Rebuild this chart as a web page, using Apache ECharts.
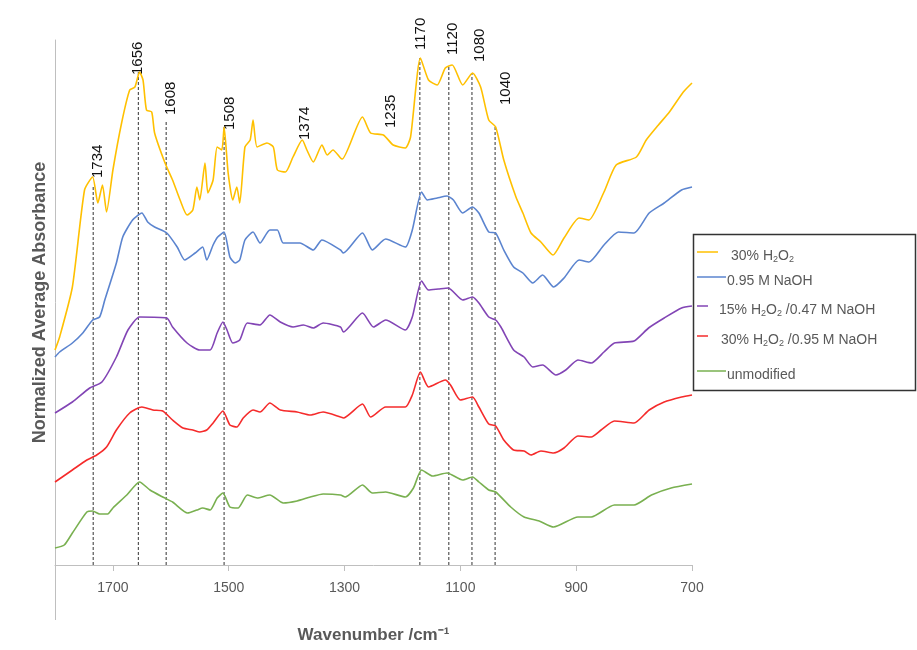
<!DOCTYPE html>
<html>
<head>
<meta charset="utf-8">
<script src="https://cdn.jsdelivr.net/npm/echarts@6/dist/echarts.min.js"></script>
<style>html,body{margin:0;padding:0;background:#fff;}#main{width:917px;height:650px;}</style>
</head>
<body>
<div id="main"></div>
<script>
// wavenumber (cm-1) and normalized absorbance (arbitrary, offset per trace)
var wnH2O2 = [1800,1792,1770,1749,1735,1726,1718,1711,1700,1685,1671,1662,1654,1648,1642,1633,1628,1610,1597,1584,1572,1562,1555,1550,1541,1536,1527,1520,1512,1508,1501,1493,1486,1481,1472,1463,1458,1451,1434,1423,1416,1402,1389,1373,1365,1354,1339,1330,1320,1307,1304,1269,1255,1233,1216,1195,1186,1169,1155,1140,1126,1114,1096,1079,1065,1051,1039,1025,1004,992,978,961,940,921,895,878,852,831,796,779,758,739,715,700];
var abH2O2 = [43,45.6,55.6,75,77.6,72.4,76,70.6,79,88.4,95,95.6,98.6,97,91,90.6,86.4,80.4,77,73,70,71,75.6,73,80.4,74.4,77,83.6,83,87.6,78.4,73,75.6,72.4,83.6,85,89,83.6,84.4,83.6,79,78.6,81.6,85,83,80.6,84,82,83,81.4,81.2,89.6,86.4,86,84,83.4,85.6,101.4,97,96,99.4,100,96,98.4,95.6,89,87.6,81,73.6,70.4,66.4,64.6,62,65.4,69.4,69,74.6,80,81.6,85,88,90.6,94.6,96.4];

var wnNaOH = [1800,1792,1770,1752,1735,1723,1714,1694,1683,1666,1650,1640,1628,1607,1589,1576,1558,1545,1538,1527,1519,1508,1498,1489,1481,1472,1458,1446,1429,1416,1406,1377,1354,1339,1307,1302,1269,1252,1229,1195,1183,1167,1157,1140,1123,1112,1096,1079,1068,1051,1039,1025,1008,992,975,958,939,921,895,878,852,827,800,774,748,718,700];
var abNaOH = [41.6,42.6,44.4,46.4,49,49.6,53,60.4,65.6,69,70.4,68.6,67.6,66.4,63.6,61,62.4,63.6,61,64,65.6,66.6,61.6,60.4,61,65,66.6,64.4,67,67,64.4,64.4,63,65,63,62.4,66.4,63,65.2,63.6,67,74.6,73,73.4,73.8,73,70.4,71.6,70.4,66.6,66.4,63,59.6,58.4,56.4,58,55.6,57.4,61,60.6,64,66.6,66.4,70.4,72.4,75,75.6];

var wnMix15 = [1800,1770,1740,1719,1694,1674,1654,1607,1597,1572,1550,1532,1520,1510,1503,1493,1481,1468,1446,1429,1411,1389,1371,1354,1337,1307,1302,1269,1250,1229,1195,1183,1167,1155,1138,1121,1096,1079,1068,1051,1039,1030,1008,990,975,958,935,918,897,874,852,834,800,775,748,718,700];
var abMix15 = [30.4,32.6,35.4,36.6,41.6,47,49.6,49.4,47.6,44.4,43,43,46.4,48.6,47,44.4,45,48.4,48,50,48.6,47.6,48,47.4,48.4,47.6,46.6,50.4,47.6,49,47,49.6,56.8,55,55.2,55.4,53,53.6,52.4,49.6,49,47.6,43,41.6,39.6,40,38,39,41,40.4,42.6,44.4,44.8,47.4,49.4,51.4,51.8];

var wnMix30 = [1800,1770,1745,1728,1711,1694,1671,1650,1631,1614,1597,1579,1562,1550,1538,1527,1510,1498,1486,1475,1458,1446,1429,1411,1382,1359,1337,1307,1302,1269,1255,1229,1195,1183,1169,1155,1126,1117,1100,1079,1068,1051,1039,1025,1008,990,978,961,939,921,897,874,857,834,800,774,748,718,700];
var abMix30 = [16.6,19,21,22,23.6,27,30.4,31.6,31,30.8,29,27.4,27,26.6,27,28.4,30.8,28,27.6,29.4,31,30.6,32.4,31,30.6,30,30.6,29.6,29.4,32.2,29.6,31.6,31.6,34,38.6,35.6,37,36,33,33.6,31.6,28.2,27.8,25,23,22.8,22,22.8,22.4,23.4,25.8,25.6,27,28.8,28.4,31,32.6,33.6,34];

var wnUnmod = [1800,1784,1770,1745,1735,1723,1709,1700,1676,1654,1636,1614,1597,1571,1555,1545,1532,1520,1510,1498,1484,1468,1451,1429,1406,1382,1359,1337,1307,1299,1269,1252,1229,1195,1181,1167,1148,1123,1096,1079,1068,1051,1039,1013,990,964,939,897,874,834,800,770,736,700];
var abUnmod = [3.4,4,6.4,10.6,10.8,10.2,10.2,11.4,14,16.6,15,13.6,12.6,10.4,11,11.4,11,13.4,14.4,11.6,11.4,14,13.4,14,12.4,12.8,13.6,14.2,14,13.6,16,14.4,14.6,13.6,15.4,19,17.8,18.4,17,17.6,16.6,15,14.6,11.6,9.6,8.8,7.6,9.6,9.6,12,12,14,15.4,16.2];

var peakWn = [1734,1656,1608,1508,1374,1235,1170,1120,1080,1040];
var peakLineTop = [76,99,89,87.6,null,null,101.4,100,98.4,87.6];
var peakLabelBase = [77.4,98,90,87,85,87.4,103,102,100.6,92];
var peakLabelShift = [5,-1,5,6,3,9,1,4,8,11];

var xTicks = [700,900,1100,1300,1500,1700];

function pairs(wn, ab) {
    return wn.map(function (w, i) { return [w, ab[i]]; });
}

var names = ['30% H2O2', '0.95 M NaOH', '15% H2O2 /0.47 M NaOH', '30% H2O2 /0.95 M NaOH', 'unmodified'];
var colors = ['#FFC000', '#5B84CF', '#8245B5', '#F52B2B', '#79B050'];
var sets = [pairs(wnH2O2, abH2O2), pairs(wnNaOH, abNaOH), pairs(wnMix15, abMix15), pairs(wnMix30, abMix30), pairs(wnUnmod, abUnmod)];

var series = sets.map(function (d, i) {
    return {
        name: names[i],
        type: 'line',
        data: d,
        smooth: 0.2,
        showSymbol: false,
        lineStyle: {color: colors[i], width: 1.6},
        z: 3
    };
});

series.unshift({
    type: 'custom',
    name: 'peaks',
    data: peakWn.map(function (w, i) { return [w, peakLineTop[i], peakLabelBase[i], peakLabelShift[i]]; }),
    renderItem: function (params, api) {
        var w = api.value(0);
        var base = api.coord([w, 0]);
        var children = [];
        var top = api.value(1);
        if (!isNaN(top) && top !== null) {
            var t = api.coord([w, top]);
            children.push({
                type: 'line',
                shape: {x1: base[0], y1: base[1], x2: t[0], y2: t[1]},
                style: {stroke: '#555', lineWidth: 1.2, lineDash: [3, 2]}
            });
        }
        var lb = api.coord([w, api.value(2)]);
        children.push({
            type: 'text',
            x: lb[0] + api.value(3),
            y: lb[1],
            rotation: Math.PI / 2,
            style: {
                text: String(w),
                font: '15px "Liberation Sans", Arial, sans-serif',
                fill: '#111',
                align: 'left',
                verticalAlign: 'middle'
            }
        });
        return {type: 'group', children: children};
    },
    z: 2
});

var legendRows = [
    {y: 256, x1: 697, x2: 718, tx: 731, rich: '{n|30% H}{s|2}{n|O}{s|2}'},
    {y: 281, x1: 697, x2: 726, tx: 727, rich: '{n|0.95 M NaOH}'},
    {y: 310, x1: 697, x2: 708, tx: 719, rich: '{n|15% H}{s|2}{n|O}{s|2}{n| /0.47 M NaOH}'},
    {y: 340, x1: 697, x2: 708, tx: 721, rich: '{n|30% H}{s|2}{n|O}{s|2}{n| /0.95 M NaOH}'},
    {y: 375, x1: 697, x2: 726, tx: 727, rich: '{n|unmodified}'}
];
var graphics = [{
    type: 'rect',
    shape: {x: 693.5, y: 234.5, width: 222, height: 156},
    style: {fill: '#fff', stroke: '#333', lineWidth: 1.5},
    z: 10
}];
legendRows.forEach(function (r, i) {
    graphics.push({
        type: 'line',
        shape: {x1: r.x1, y1: r.y - 4, x2: r.x2, y2: r.y - 4},
        style: {stroke: colors[i], lineWidth: 1.5},
        z: 11
    });
    graphics.push({
        type: 'text',
        x: r.tx,
        y: r.y,
        style: {
            text: r.rich,
            fill: '#595959',
            verticalAlign: 'middle',
            rich: {
                n: {fontSize: 14, fontFamily: 'Liberation Sans', fill: '#595959', lineHeight: 18},
                s: {fontSize: 9, fontFamily: 'Liberation Sans', fill: '#595959', lineHeight: 18, padding: [7, 0, 0, 0]}
            }
        },
        z: 11
    });
});
graphics.push({
    type: 'line',
    shape: {x1: 55.5, y1: 565, x2: 55.5, y2: 620},
    style: {stroke: '#bfbfbf', lineWidth: 1}
});

var option = {
    animation: false,
    backgroundColor: '#fff',
    grid: {left: 55, right: 225, top: 40, bottom: 85},
    xAxis: {
        type: 'value',
        inverse: true,
        min: 700,
        max: 1800,
        interval: 200,
        name: 'Wavenumber /cm\u207B\u00B9',
        nameLocation: 'middle',
        nameGap: 62,
        nameTextStyle: {fontSize: 17, fontWeight: 'bold', color: '#595959', fontFamily: 'Liberation Sans'},
        axisLine: {lineStyle: {color: '#bfbfbf', width: 1}},
        axisTick: {show: true, length: 6, lineStyle: {color: '#bfbfbf'}},
        axisLabel: {
            fontSize: 14, color: '#595959', fontFamily: 'Liberation Sans', margin: 16,
            formatter: function (v) { return xTicks.indexOf(v) >= 0 ? String(v) : ''; }
        },
        splitLine: {show: false}
    },
    yAxis: {
        type: 'value',
        min: 0,
        max: 105,
        name: 'Normalized Average Absorbance',
        nameLocation: 'middle',
        nameGap: 6,
        nameTextStyle: {fontSize: 18, fontWeight: 'bold', color: '#595959', fontFamily: 'Liberation Sans'},
        axisLine: {show: true, lineStyle: {color: '#bfbfbf', width: 1}},
        axisTick: {show: false},
        axisLabel: {show: false},
        splitLine: {show: false}
    },
    graphic: graphics,
    series: series
};

echarts.init(document.getElementById('main')).setOption(option);
</script>
</body>
</html>
